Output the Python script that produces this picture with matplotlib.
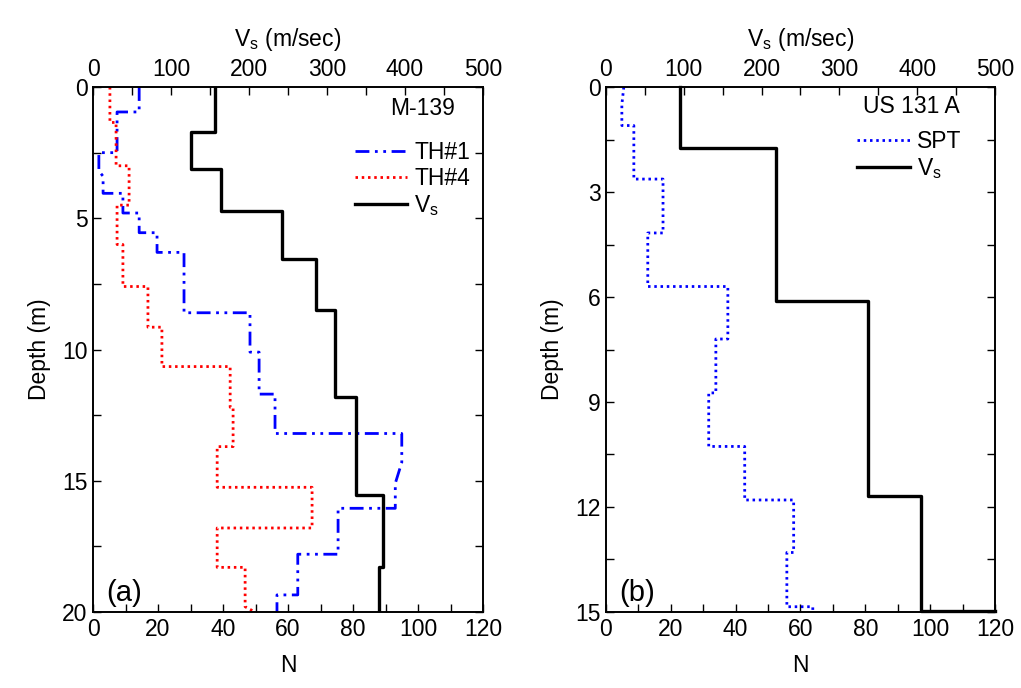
import matplotlib
matplotlib.use("Agg")
import matplotlib.pyplot as plt
from matplotlib.ticker import MultipleLocator

plt.rcParams["font.family"] = ["Liberation Sans", "DejaVu Sans"]
plt.rcParams["mathtext.fontset"] = "custom"
plt.rcParams["mathtext.rm"] = "Liberation Sans"

# ---- Site M-139 ----
# SPT blow counts, borehole TH#1 (depth vertices, N)
th1_depth = [0, 0.95, 0.95, 2.5, 2.5, 3.2, 3.4, 4.05, 4.05, 4.8, 4.8, 5.55, 5.55, 6.3, 6.3,
             8.6, 8.6, 10.1, 10.1, 11.7, 11.7, 13.2, 13.2, 14.3, 15.1, 16.05, 16.05,
             17.8, 17.8, 19.35, 19.35, 20]
th1_n = [14.2, 14.2, 7.4, 7.4, 1.8, 1.8, 3.1, 3.1, 9.2, 9.2, 14.2, 14.2, 19.7, 19.7, 28,
         28, 48.3, 48.3, 51.1, 51.1, 56, 56, 95, 95, 93, 93, 75.4,
         75.4, 63, 63, 56.6, 56.6]
# SPT blow counts, borehole TH#4
th4_depth = [0, 1.35, 1.35, 3.0, 3.0, 4.5, 4.5, 6.0, 6.0, 7.6, 7.6, 9.15, 9.15, 10.65, 10.65,
             12.2, 12.2, 13.7, 13.7, 15.25, 15.25, 16.8, 16.8, 18.3, 18.3, 19.8, 20]
th4_n = [5.2, 5.2, 7.1, 7.1, 11.1, 11.1, 7.4, 7.4, 9.2, 9.2, 16.9, 16.9, 21.2, 21.2, 42.2,
         42.2, 43.1, 43.1, 38.2, 38.2, 67.4, 67.4, 38.2, 38.2, 46.8, 46.8, 49.8]
# Shear wave velocity profile
vs_a_depth = [0, 1.72, 1.72, 3.12, 3.12, 4.72, 4.72, 6.55, 6.55, 8.5, 8.5, 11.8, 11.8,
              15.55, 15.55, 18.3, 18.3, 20]
vs_a = [157, 157, 126, 126, 164, 164, 242, 242, 286, 286, 310, 310, 337, 337, 372, 372, 367, 367]

# ---- Site US 131 A ----
spt_depth = [0, 0.5, 1.1, 1.1, 2.63, 2.63, 4.17, 4.17, 5.7, 5.7, 7.2, 7.2, 8.74, 8.74,
             10.27, 10.27, 11.8, 11.8, 13.3, 13.3, 14.85, 14.85, 15]
spt_n = [5.5, 4.9, 4.9, 8.6, 8.6, 17.6, 17.6, 12.9, 12.9, 37.6, 37.6, 33.9, 33.9, 31.7,
         31.7, 42.8, 42.8, 57.9, 57.9, 55.8, 55.8, 63.8, 63.8]
vs_b_depth = [0, 1.74, 1.74, 6.12, 6.12, 11.7, 11.7, 14.97, 14.97]
vs_b = [95, 95, 218, 218, 337, 337, 405, 405, 500]

FS = 16.5
VS_LABEL = r"V$_{\mathrm{s}}$"
fig = plt.figure(figsize=(10.21, 6.88), dpi=100)


def style_axes(ax, axv, ymax, ymajor):
    ax.set_xlim(0, 120)
    ax.set_ylim(ymax, 0)
    axv.set_xlim(0, 500)
    ax.xaxis.set_major_locator(MultipleLocator(20))
    ax.xaxis.set_minor_locator(MultipleLocator(10))
    ax.yaxis.set_major_locator(MultipleLocator(ymajor))
    ax.yaxis.set_minor_locator(MultipleLocator(ymajor / 2))
    axv.xaxis.set_major_locator(MultipleLocator(100))
    axv.xaxis.set_minor_locator(MultipleLocator(50))
    ax.tick_params(which="both", direction="in", top=False, right=True,
                   labelsize=FS, length=6, width=1, pad=4)
    axv.tick_params(which="both", direction="in", labelsize=FS, length=6, width=1, pad=4)
    for a in (ax, axv):
        for s in a.spines.values():
            s.set_linewidth(1.2)
    ax.set_xlabel("N", fontsize=FS, labelpad=10)
    ax.set_ylabel("Depth (m)", fontsize=FS, labelpad=8)
    axv.set_xlabel(VS_LABEL + " (m/sec)", fontsize=FS, labelpad=9)


def site_legend(ax, handles, title, title_xy, anchor):
    ax.text(title_xy[0], title_xy[1], title, transform=ax.transAxes, fontsize=FS,
            ha="right", va="center")
    ax.legend(handles=handles, loc="upper right", bbox_to_anchor=anchor,
              frameon=False, fontsize=FS, handlelength=2.3, handletextpad=0.3,
              borderpad=0, borderaxespad=0, labelspacing=0.12)


# Panel (a)
ax1 = fig.add_axes([0.0911, 0.1105, 0.382, 0.763])
ax1v = ax1.twiny()
l1, = ax1.plot(th1_n, th1_depth, color="#0000ff", lw=2.0,
               linestyle=(0, (5, 2, 1, 2, 1, 2)), label="TH#1")
l2, = ax1.plot(th4_n, th4_depth, color="#ff0000", lw=2.0,
               linestyle=(0, (0.9, 1.35)), label="TH#4")
l3, = ax1v.plot(vs_a, vs_a_depth, color="black", lw=2.4, label=VS_LABEL)
style_axes(ax1, ax1v, 20, 5)
site_legend(ax1v, [l1, l2, l3], "M-139", (0.928, 0.960), (0.967, 0.897))
ax1.text(0.035, 0.02, "(a)", transform=ax1.transAxes, fontsize=21)

# Panel (b)
ax2 = fig.add_axes([0.5935, 0.1105, 0.381, 0.763])
ax2v = ax2.twiny()
m1, = ax2.plot(spt_n, spt_depth, color="#0000ff", lw=2.0,
               linestyle=(0, (0.9, 1.35)), label="SPT")
m2, = ax2v.plot(vs_b, vs_b_depth, color="black", lw=2.4, label=VS_LABEL,
                clip_on=False)
style_axes(ax2, ax2v, 15, 3)
site_legend(ax2v, [m1, m2], "US 131 A", (0.910, 0.962), (0.913, 0.918))
ax2.text(0.035, 0.02, "(b)", transform=ax2.transAxes, fontsize=21)

fig.savefig("out.png", dpi=100)
